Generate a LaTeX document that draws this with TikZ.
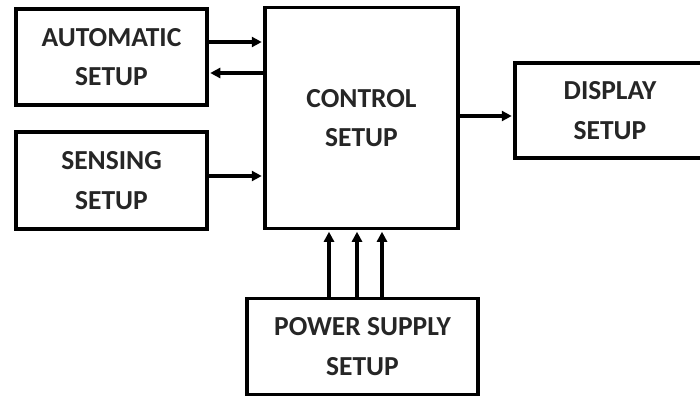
\documentclass[tikz,border=0pt]{standalone}
\usepackage{fontspec}
\setmainfont{Carlito}
\usetikzlibrary{arrows.meta,calc}
\begin{document}
\begin{tikzpicture}[x=1pt,y=-1pt,
  blk/.style={draw=black, line width=3.5pt, rectangle, inner sep=0pt, align=center,
    font=\fontsize{27.5}{39.5}\selectfont\bfseries, text=black!85},
  arr/.style={line width=3.2pt, -{Triangle[length=10pt,width=10pt]}, shorten >=1.5pt}]
\useasboundingbox (0,0) rectangle (700,396);
\clip (0,0) rectangle (700,396);
\node[blk, minimum width=191pt, minimum height=96pt] (auto) at (111.5,57) {AUTOMATIC\\SETUP};
\node[blk, minimum width=191pt, minimum height=97pt] (sense) at (111.5,180.5) {SENSING\\SETUP};
\node[blk, minimum width=193pt, minimum height=221pt] (ctrl) at (361.5,118) {CONTROL\\SETUP};
\node[blk, minimum width=190pt, minimum height=95pt] (disp) at (610,110.5) {DISPLAY\\SETUP};
\node[blk, minimum width=231pt, minimum height=96pt] (pwr) at (362.5,346.5) {POWER SUPPLY\\SETUP};
\draw[arr] (auto.east |- 0,42) -- (ctrl.west |- 0,42);
\draw[arr] (ctrl.west |- 0,73) -- (auto.east |- 0,73);
\draw[arr] (sense.east |- 0,176) -- (ctrl.west |- 0,176);
\draw[arr] (ctrl.east |- 0,116) -- (disp.west |- 0,116);
\draw[arr] (pwr.north -| 329,0) -- (ctrl.south -| 329,0);
\draw[arr] (pwr.north -| 357,0) -- (ctrl.south -| 357,0);
\draw[arr] (pwr.north -| 382,0) -- (ctrl.south -| 382,0);
\end{tikzpicture}
\end{document}
